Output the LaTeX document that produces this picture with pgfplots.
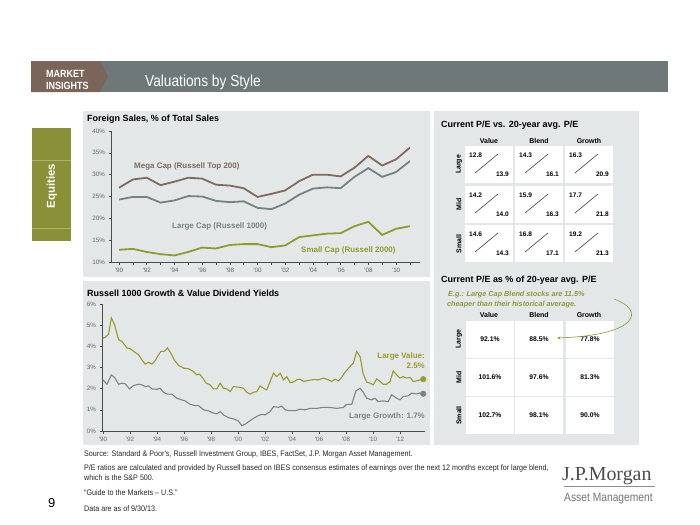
\documentclass[border=0pt]{standalone}
\usepackage{pgfplots}
\pgfplotsset{compat=1.18}
\usepackage{pgfplotstable}
\usepackage{fontspec}
\setmainfont{Liberation Sans}
\newfontfamily\narrowfont[FakeStretch=0.86]{Liberation Sans}
\newfontfamily\footfont[FakeStretch=0.9]{Liberation Sans}
\newfontfamily\jpserif{Liberation Serif}
\usetikzlibrary{arrows.meta}
\definecolor{hdrgray}{HTML}{6E7878}
\definecolor{hdrbrown}{HTML}{7A655A}
\definecolor{panel}{HTML}{E4E7E7}
\definecolor{olive}{HTML}{8A9038}
\definecolor{smallc}{HTML}{8E9C2F}
\definecolor{megac}{HTML}{7E6A60}
\definecolor{largec}{HTML}{738383}
\definecolor{valc}{HTML}{9A9A2C}
\definecolor{growc}{HTML}{7A8686}
\definecolor{anncol}{HTML}{8C9A3A}

\pgfplotstableread{
year mega large small
1990 27.0 24.3 12.8
1991 28.9 24.9 13.0
1992 29.3 24.9 12.3
1993 27.6 23.6 11.8
1994 28.4 24.1 11.5
1995 29.3 25.1 12.3
1996 29.1 25.0 13.3
1997 27.7 24.0 13.1
1998 27.5 23.7 13.9
1999 26.9 23.9 14.1
2000 24.9 22.4 14.1
2001 25.6 22.1 13.4
2002 26.4 23.4 13.8
2003 28.5 25.4 15.7
2004 30.0 26.8 16.1
2005 30.0 27.1 16.5
2006 29.6 26.9 16.6
2007 31.6 29.5 18.2
2008 34.3 31.5 19.2
2009 32.1 29.5 16.2
2010 33.5 30.6 17.6
2011 36.2 33.1 18.2
}\foreign

\pgfplotstableread{
t v
1990.00 4.39
1990.17 4.42
1990.42 4.58
1990.62 5.34
1990.86 5.02
1991.16 4.31
1991.41 4.23
1991.78 3.92
1992.02 3.89
1992.27 3.76
1992.64 3.60
1992.89 3.36
1993.13 3.16
1993.38 3.25
1993.63 3.16
1993.87 3.32
1994.04 3.52
1994.29 3.76
1994.54 3.76
1994.78 3.92
1995.03 3.68
1995.28 3.36
1995.60 3.10
1995.97 2.97
1996.34 2.94
1996.71 2.81
1996.95 2.65
1997.15 2.69
1997.40 2.50
1997.64 2.26
1997.94 2.18
1998.19 1.99
1998.43 1.99
1998.68 2.26
1998.93 2.02
1999.17 1.99
1999.42 1.86
1999.67 2.10
2000.04 2.07
2000.41 2.02
2000.65 1.83
2000.90 1.74
2001.15 1.83
2001.39 1.86
2001.64 2.13
2001.89 2.02
2002.13 1.94
2002.38 2.34
2002.63 2.73
2002.87 2.57
2003.12 2.73
2003.37 2.42
2003.61 2.57
2003.86 2.29
2004.11 2.31
2004.35 2.42
2004.60 2.45
2004.85 2.34
2005.22 2.39
2005.59 2.43
2005.96 2.42
2006.33 2.50
2006.70 2.42
2006.94 2.34
2007.19 2.45
2007.44 2.37
2007.68 2.53
2007.93 2.78
2008.30 3.05
2008.55 3.21
2008.79 3.76
2009.04 3.52
2009.28 2.69
2009.53 2.31
2009.78 2.26
2010.02 2.18
2010.27 2.46
2010.52 2.34
2010.76 2.21
2011.01 2.21
2011.26 2.34
2011.50 2.84
2011.75 2.65
2012.00 2.50
2012.24 2.57
2012.49 2.50
2012.74 2.53
2012.98 2.34
2013.23 2.37
2013.48 2.42
2013.72 2.45
}\valuey

\pgfplotstableread{
t g
1990.00 2.42
1990.30 2.21
1990.62 2.65
1990.86 2.53
1991.16 2.21
1991.41 2.26
1991.65 2.23
1991.97 1.99
1992.27 2.15
1992.64 2.21
1992.89 2.18
1993.13 2.10
1993.38 2.13
1993.63 1.99
1994.00 1.97
1994.24 2.02
1994.49 1.83
1994.78 1.74
1995.10 1.74
1995.47 1.55
1995.84 1.47
1996.09 1.42
1996.46 1.26
1996.83 1.20
1997.08 1.20
1997.45 1.00
1997.82 0.95
1998.06 0.87
1998.43 0.81
1998.68 0.92
1998.93 0.76
1999.30 0.63
1999.67 0.57
2000.04 0.47
2000.28 0.25
2000.53 0.32
2000.78 0.44
2001.15 0.60
2001.52 0.73
2001.76 0.79
2002.01 0.76
2002.38 0.92
2002.63 1.15
2003.00 1.12
2003.24 1.18
2003.49 1.00
2003.86 0.96
2004.23 0.96
2004.60 1.03
2004.97 1.00
2005.34 1.07
2005.83 1.07
2006.33 1.12
2006.82 1.11
2007.31 1.07
2007.81 1.11
2008.05 1.26
2008.42 1.26
2008.74 1.90
2009.04 2.02
2009.28 1.83
2009.53 1.55
2009.90 1.47
2010.15 1.55
2010.39 1.39
2010.76 1.42
2011.13 1.39
2011.38 1.71
2011.75 1.55
2012.00 1.47
2012.24 1.63
2012.61 1.66
2012.86 1.79
2013.23 1.75
2013.48 1.80
2013.72 1.75
}\growthy

\pgfplotsset{
  slidestyle/.style={
    scale only axis, clip=false,
    axis lines*=left,
    axis line style={-, black!70, line width=0.6bp},
    tick align=outside,
    major tick length=2.5bp, minor tick length=2.5bp,
    tick style={black!70, line width=0.5bp},
    ticklabel style={font=\fontsize{6.3}{7}\selectfont, text=black!60},
    /pgf/number format/assume math mode=true,
    yticklabel={\pgfmathprintnumber{\tick}\%},
  }
}

\begin{document}
\begin{tikzpicture}
\useasboundingbox (0,0) rectangle (700bp,-525bp);
\fill[white] (0,0) rectangle (700bp,-525bp);
\begin{scope}[x=1bp,y=-1bp]
% header
\fill[hdrgray] (31,61) rectangle (668,92);
\fill[hdrbrown] (31,61) -- (100,61) -- (108,76.5) -- (100,92) -- (31,92) -- cycle;
\node[anchor=base west, text=white, font=\bfseries\narrowfont\fontsize{10.5}{11}\selectfont, inner sep=0] at (46,77) {MARKET};
\node[anchor=base west, text=white, font=\bfseries\narrowfont\fontsize{10.5}{11}\selectfont, inner sep=0] at (46,89.5) {INSIGHTS};
\node[anchor=base west, text=white, font=\narrowfont\fontsize{16}{17}\selectfont, inner sep=0] at (145,86) {Valuations by Style};
% equities tab
\fill[olive] (32,128) rectangle (71,241);
\draw[olive!70!white, line width=0.4bp] (32,160) -- (71,160) (32,228) -- (71,228);
\node[rotate=90, text=white, font=\bfseries\fontsize{11.5}{12}\selectfont] at (52,186) {Equities};
% panels
\fill[panel] (83,111) rectangle (430,277);
\fill[panel] (83,281) rectangle (430,445);
\fill[panel] (434,111) rectangle (639,445);
% titles
\node[anchor=base west, inner sep=0, font=\bfseries\fontsize{9}{10}\selectfont] at (87,121) {Foreign Sales, \% of Total Sales};
\node[anchor=base west, inner sep=0, font=\bfseries\fontsize{9}{10}\selectfont] at (87,296) {Russell 1000 Growth \& Value Dividend Yields};
\node[anchor=base west, inner sep=0, font=\bfseries\fontsize{9}{10}\selectfont] at (441,127) {Current P/E vs. 20-year avg. P/E};
\node[anchor=base west, inner sep=0, font=\bfseries\fontsize{9}{10}\selectfont] at (441,282) {Current P/E as \% of 20-year avg. P/E};
\end{scope}

% top chart
\begin{axis}[slidestyle,
  at={(111bp,-262bp)}, anchor=south west,
  width=309bp, height=131bp,
  xmin=1989.42, xmax=2011.73, ymin=10, ymax=40,
  ytick={10,15,...,40},
  xtick={1990,1992,...,2010},
  xticklabels={'90,'92,'94,'96,'98,'00,'02,'04,'06,'08,'10},
  minor xtick={1991,1993,...,2011},
]
\addplot[megac, line width=1.8bp] table[x=year,y=mega] {\foreign};
\addplot[largec, line width=1.8bp] table[x=year,y=large] {\foreign};
\addplot[smallc, line width=1.8bp] table[x=year,y=small] {\foreign};
\end{axis}

% bottom chart
\begin{axis}[slidestyle,
  at={(102bp,-431bp)}, anchor=south west,
  width=323bp, height=127bp,
  xmin=1989.93, xmax=2013.85, ymin=0, ymax=6,
  ytick={0,1,...,6},
  xtick={1990,1992,...,2012},
  xticklabels={'90,'92,'94,'96,'98,'00,'02,'04,'06,'08,'10,'12},
]
\addplot[valc, line width=1.1bp] table[x=t,y=v] {\valuey};
\addplot[growc, line width=1.1bp] table[x=t,y=g] {\growthy};
\addplot[only marks, mark=*, mark size=2.8bp, valc] coordinates {(2013.72,2.45)};
\addplot[only marks, mark=*, mark size=2.8bp, growc] coordinates {(2013.72,1.76)};
\end{axis}

\begin{scope}[x=1bp,y=-1bp]
% series labels
\node[anchor=base west, inner sep=0, text=megac, font=\bfseries\fontsize{8}{9}\selectfont] at (134,168) {Mega Cap (Russell Top 200)};
\node[anchor=base west, inner sep=0, text=largec, font=\bfseries\fontsize{8}{9}\selectfont] at (172,228) {Large Cap (Russell 1000)};
\node[anchor=base west, inner sep=0, text=smallc, font=\bfseries\fontsize{8}{9}\selectfont] at (301,252) {Small Cap (Russell 2000)};
\node[anchor=base east, inner sep=0, text=valc, font=\bfseries\fontsize{8}{9}\selectfont] at (425,358) {Large Value:};
\node[anchor=base east, inner sep=0, text=valc, font=\bfseries\fontsize{8}{9}\selectfont] at (425,368) {2.5\%};
\node[anchor=base east, inner sep=0, text=growc, font=\bfseries\fontsize{8}{9}\selectfont] at (425,418) {Large Growth: 1.7\%};

% table headers
\foreach \c/\lab in {489/Value, 539/Blend, 589/Growth}{
  \node[anchor=base, inner sep=0, font=\bfseries\fontsize{7}{8}\selectfont] at (\c,143) {\lab};
  \node[anchor=base, inner sep=0, font=\bfseries\fontsize{7}{8}\selectfont] at (\c,317) {\lab};
}
\foreach \r/\lab in {164.5/Large, 204.5/Mid, 244/Small}{
  \node[rotate=90, inner sep=0, font=\bfseries\fontsize{7}{8}\selectfont] at (459,\r) {\lab};
}
\foreach \r/\lab in {339/Large, 377.5/Mid, 415.5/Small}{
  \node[rotate=90, inner sep=0, font=\bfseries\fontsize{7}{8}\selectfont] at (459,\r) {\lab};
}
% table 1
\foreach \x/\y/\a/\b in {
  465/146/12.8/13.9, 515/146/14.3/16.1, 565/146/16.3/20.9,
  465/186/14.2/14.0, 515/186/15.9/16.3, 565/186/17.7/21.8,
  465/225/14.6/14.3, 515/225/16.8/17.1, 565/225/19.2/21.3}{
  \fill[white] (\x,\y) rectangle ++(48,37);
  \draw[black!75, line width=0.6bp] (\x+10,\y+27) -- (\x+33,\y+8);
  \node[anchor=base west, inner sep=0, font=\bfseries\fontsize{6.6}{7}\selectfont] at (\x+4,\y+11) {\a};
  \node[anchor=base east, inner sep=0, font=\bfseries\fontsize{6.6}{7}\selectfont] at (\x+44,\y+30) {\b};
}
% table 2
\foreach \x/\y/\v in {
  466/321/92.1\%, 515/321/88.5\%, 566/321/77.8\%,
  466/359/101.6\%, 515/359/97.6\%, 566/359/81.3\%,
  466/397/102.7\%, 515/397/98.1\%, 566/397/90.0\%}{
  \fill[white] (\x,\y) rectangle ++(48,37);
  \node[inner sep=0, font=\bfseries\fontsize{6.8}{7}\selectfont] at (\x+24,\y+18.5) {\v};
}
% annotation
\node[anchor=base west, inner sep=0, text=anncol, font=\bfseries\itshape\fontsize{7.3}{8}\selectfont] at (448,296) {E.g.: Large Cap Blend stocks are 11.5\%};
\node[anchor=base west, inner sep=0, text=anncol, font=\bfseries\itshape\fontsize{7.3}{8}\selectfont] at (447,306) {cheaper than their historical average.};
\draw[anncol, line width=0.6bp, -{Stealth[length=3.5bp,width=3bp]}] (614,299) .. controls (645,310) and (640,335) .. (557,338);

% footer
\begin{scope}[every node/.style={anchor=base west, inner sep=0, text=black!85, font=\footfont\fontsize{8}{9}\selectfont}]
\node at (84,456) {Source: Standard \& Poor's, Russell Investment Group, IBES, FactSet, J.P. Morgan Asset Management.};
\node at (84,470) {P/E ratios are calculated and provided by Russell based on IBES consensus estimates of earnings over the next 12 months except for large blend,};
\node at (84,480) {which is the S\&P 500.};
\node at (84,495) {“Guide to the Markets – U.S.”};
\node at (84,511) {Data are as of 9/30/13.};
\end{scope}
\node[anchor=base west, inner sep=0, font=\fontsize{13}{14}\selectfont] at (48,507) {9};
% logo
\node[anchor=base west, inner sep=0, text=black!70, font=\jpserif\fontsize{20}{21}\selectfont] at (562,480) {J.P.Morgan};
\draw[black!45, line width=0.5bp] (564,486) -- (655,486);
\node[anchor=base west, inner sep=0, text=black!55, font=\narrowfont\fontsize{12}{13}\selectfont] at (564,501) {Asset Management};
\end{scope}
\end{tikzpicture}
\end{document}
